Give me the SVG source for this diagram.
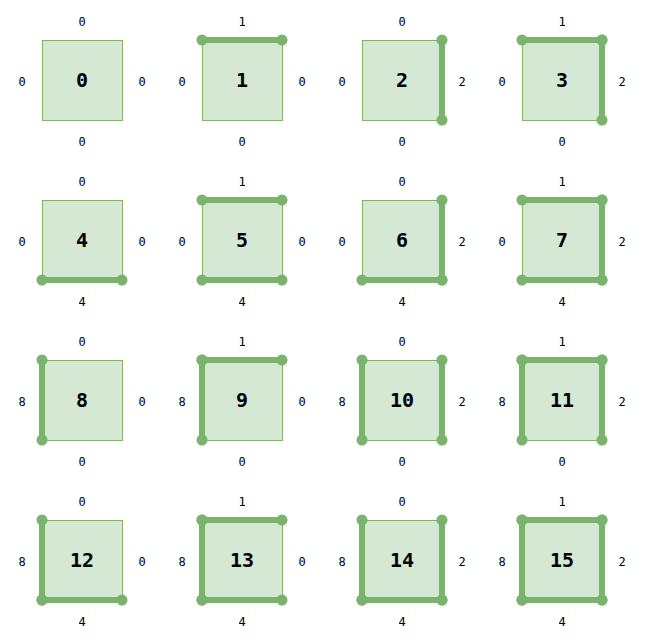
<svg xmlns="http://www.w3.org/2000/svg" width="655" height="643" viewBox="0 0 655 643">
<style>
.sq{fill:#d5e8d4;stroke:#82b366;stroke-width:1}
.e{stroke:#7ab36b;stroke-width:6;fill:none}
.d{fill:#7ab36b}
.l{font-family:"DejaVu Sans Mono",monospace;font-size:12px;fill:#000;text-anchor:middle;dominant-baseline:central}
.n{font-family:"DejaVu Sans Mono",monospace;font-size:20px;font-weight:bold;fill:#000;text-anchor:middle;dominant-baseline:central}
</style>
<rect width="655" height="643" fill="#fff"/>
<defs>
<rect id="S" class="sq" x="0.5" y="0.5" width="80" height="80"/>
<g id="T"><line class="e" x1="0" y1="0" x2="80" y2="0"/><circle class="d" cx="0" cy="0" r="5.5"/><circle class="d" cx="80" cy="0" r="5.5"/></g>
<g id="R"><line class="e" x1="80" y1="0" x2="80" y2="80"/><circle class="d" cx="80" cy="0" r="5.5"/><circle class="d" cx="80" cy="80" r="5.5"/></g>
<g id="B"><line class="e" x1="0" y1="80" x2="80" y2="80"/><circle class="d" cx="0" cy="80" r="5.5"/><circle class="d" cx="80" cy="80" r="5.5"/></g>
<g id="L"><line class="e" x1="0" y1="0" x2="0" y2="80"/><circle class="d" cx="0" cy="0" r="5.5"/><circle class="d" cx="0" cy="80" r="5.5"/></g>
</defs>
<g id="node0" transform="translate(42,40)"><use href="#S"/><text class="n" x="40" y="40">0</text><text class="l" x="40" y="-18">0</text><text class="l" x="-20" y="42">0</text><text class="l" x="100" y="42">0</text><text class="l" x="40" y="102">0</text></g>
<g id="node1" transform="translate(202,40)"><use href="#S"/><use href="#T"/><text class="n" x="40" y="40">1</text><text class="l" x="40" y="-18">1</text><text class="l" x="-20" y="42">0</text><text class="l" x="100" y="42">0</text><text class="l" x="40" y="102">0</text></g>
<g id="node2" transform="translate(362,40)"><use href="#S"/><use href="#R"/><text class="n" x="40" y="40">2</text><text class="l" x="40" y="-18">0</text><text class="l" x="-20" y="42">0</text><text class="l" x="100" y="42">2</text><text class="l" x="40" y="102">0</text></g>
<g id="node3" transform="translate(522,40)"><use href="#S"/><use href="#T"/><use href="#R"/><text class="n" x="40" y="40">3</text><text class="l" x="40" y="-18">1</text><text class="l" x="-20" y="42">0</text><text class="l" x="100" y="42">2</text><text class="l" x="40" y="102">0</text></g>
<g id="node4" transform="translate(42,200)"><use href="#S"/><use href="#B"/><text class="n" x="40" y="40">4</text><text class="l" x="40" y="-18">0</text><text class="l" x="-20" y="42">0</text><text class="l" x="100" y="42">0</text><text class="l" x="40" y="102">4</text></g>
<g id="node5" transform="translate(202,200)"><use href="#S"/><use href="#T"/><use href="#B"/><text class="n" x="40" y="40">5</text><text class="l" x="40" y="-18">1</text><text class="l" x="-20" y="42">0</text><text class="l" x="100" y="42">0</text><text class="l" x="40" y="102">4</text></g>
<g id="node6" transform="translate(362,200)"><use href="#S"/><use href="#R"/><use href="#B"/><text class="n" x="40" y="40">6</text><text class="l" x="40" y="-18">0</text><text class="l" x="-20" y="42">0</text><text class="l" x="100" y="42">2</text><text class="l" x="40" y="102">4</text></g>
<g id="node7" transform="translate(522,200)"><use href="#S"/><use href="#T"/><use href="#R"/><use href="#B"/><text class="n" x="40" y="40">7</text><text class="l" x="40" y="-18">1</text><text class="l" x="-20" y="42">0</text><text class="l" x="100" y="42">2</text><text class="l" x="40" y="102">4</text></g>
<g id="node8" transform="translate(42,360)"><use href="#S"/><use href="#L"/><text class="n" x="40" y="40">8</text><text class="l" x="40" y="-18">0</text><text class="l" x="-20" y="42">8</text><text class="l" x="100" y="42">0</text><text class="l" x="40" y="102">0</text></g>
<g id="node9" transform="translate(202,360)"><use href="#S"/><use href="#T"/><use href="#L"/><text class="n" x="40" y="40">9</text><text class="l" x="40" y="-18">1</text><text class="l" x="-20" y="42">8</text><text class="l" x="100" y="42">0</text><text class="l" x="40" y="102">0</text></g>
<g id="node10" transform="translate(362,360)"><use href="#S"/><use href="#R"/><use href="#L"/><text class="n" x="40" y="40">10</text><text class="l" x="40" y="-18">0</text><text class="l" x="-20" y="42">8</text><text class="l" x="100" y="42">2</text><text class="l" x="40" y="102">0</text></g>
<g id="node11" transform="translate(522,360)"><use href="#S"/><use href="#T"/><use href="#R"/><use href="#L"/><text class="n" x="40" y="40">11</text><text class="l" x="40" y="-18">1</text><text class="l" x="-20" y="42">8</text><text class="l" x="100" y="42">2</text><text class="l" x="40" y="102">0</text></g>
<g id="node12" transform="translate(42,520)"><use href="#S"/><use href="#B"/><use href="#L"/><text class="n" x="40" y="40">12</text><text class="l" x="40" y="-18">0</text><text class="l" x="-20" y="42">8</text><text class="l" x="100" y="42">0</text><text class="l" x="40" y="102">4</text></g>
<g id="node13" transform="translate(202,520)"><use href="#S"/><use href="#T"/><use href="#B"/><use href="#L"/><text class="n" x="40" y="40">13</text><text class="l" x="40" y="-18">1</text><text class="l" x="-20" y="42">8</text><text class="l" x="100" y="42">0</text><text class="l" x="40" y="102">4</text></g>
<g id="node14" transform="translate(362,520)"><use href="#S"/><use href="#R"/><use href="#B"/><use href="#L"/><text class="n" x="40" y="40">14</text><text class="l" x="40" y="-18">0</text><text class="l" x="-20" y="42">8</text><text class="l" x="100" y="42">2</text><text class="l" x="40" y="102">4</text></g>
<g id="node15" transform="translate(522,520)"><use href="#S"/><use href="#T"/><use href="#R"/><use href="#B"/><use href="#L"/><text class="n" x="40" y="40">15</text><text class="l" x="40" y="-18">1</text><text class="l" x="-20" y="42">8</text><text class="l" x="100" y="42">2</text><text class="l" x="40" y="102">4</text></g>
<g id="connectors"></g>
</svg>
